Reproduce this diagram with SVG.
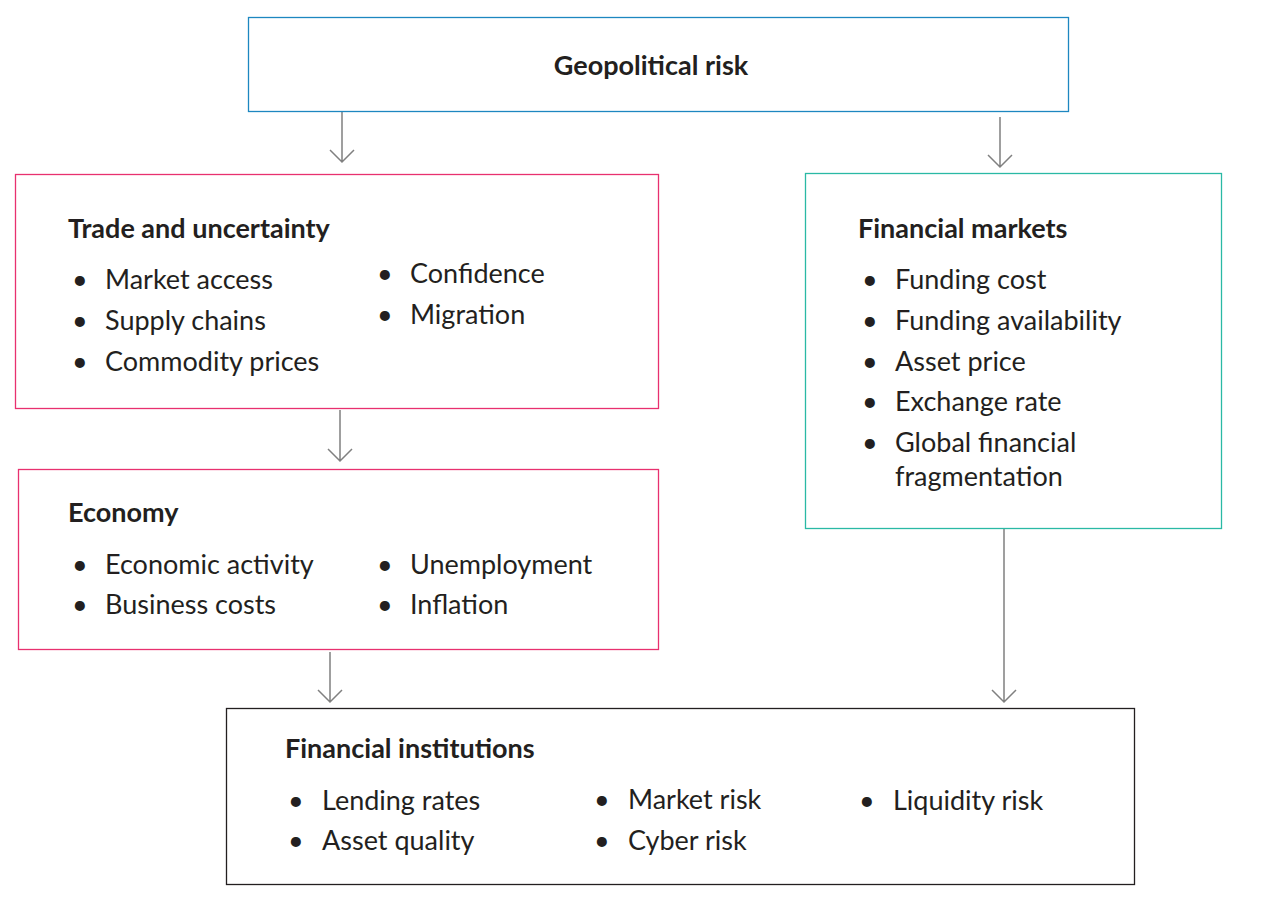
<svg xmlns="http://www.w3.org/2000/svg" width="1278" height="903" viewBox="0 0 1278 903">
<style>
text{font-family:Lato,"Liberation Sans",sans-serif;fill:#231f20;font-size:27px}
.h{font-weight:bold}
.b{fill:#fff;stroke-width:1.3}
.c line,.c path{stroke:#808080;stroke-width:1.5;fill:none}
</style>
<defs><marker id="a" markerWidth="14" markerHeight="14" refX="7" refY="12" orient="auto-start-reverse" markerUnits="userSpaceOnUse"><path d="M1,1 L7,12 L13,1" transform="rotate(0)" fill="none" stroke="#808080" stroke-width="1.5"/></marker></defs>
<rect width="1278" height="903" fill="#fff"/>
<g class="c">
<path d="M342,112 V162 M330,150 L342,162 L354,150"/>
<path d="M1000,117 V167 M988,155 L1000,167 L1012,155"/>
<path d="M340,410 V461 M328,449 L340,461 L352,449"/>
<path d="M330,652 V702 M318,690 L330,702 L342,690"/>
<path d="M1004,529 V702 M992,690 L1004,702 L1016,690"/>
</g>
<g id="geo"><rect class="b" x="248.5" y="17.5" width="820" height="94" stroke="#1d87c0"/><text class="h" x="651" y="75" text-anchor="middle">Geopolitical risk</text></g>
<g id="trade"><rect class="b" x="15.5" y="174.5" width="643" height="234" stroke="#e8306f"/>
<text class="h" x="68" y="238">Trade and uncertainty</text>
<text x="72" y="289">•</text><text x="105" y="289">Market access</text>
<text x="72" y="330">•</text><text x="105" y="330">Supply chains</text>
<text x="72" y="371">•</text><text x="105" y="371">Commodity prices</text>
<text x="377" y="283">•</text><text x="410" y="283">Confidence</text>
<text x="377" y="324">•</text><text x="410" y="324">Migration</text></g>
<g id="econ"><rect class="b" x="18.5" y="469.5" width="640" height="180" stroke="#e8306f"/>
<text class="h" x="68" y="522">Economy</text>
<text x="72" y="574">•</text><text x="105" y="574">Economic activity</text>
<text x="72" y="614">•</text><text x="105" y="614">Business costs</text>
<text x="377" y="574">•</text><text x="410" y="574">Unemployment</text>
<text x="377" y="614">•</text><text x="410" y="614">Inflation</text></g>
<g id="fin"><rect class="b" x="805.5" y="173.5" width="416" height="355" stroke="#2ab9a5"/>
<text class="h" x="858" y="238">Financial markets</text>
<text x="862" y="289">•</text><text x="895" y="289">Funding cost</text>
<text x="862" y="330">•</text><text x="895" y="330">Funding availability</text>
<text x="862" y="371">•</text><text x="895" y="371">Asset price</text>
<text x="862" y="411">•</text><text x="895" y="411">Exchange rate</text>
<text x="862" y="452">•</text><text x="895" y="452">Global financial</text>
<text x="895" y="486">fragmentation</text></g>
<g id="inst"><rect class="b" x="226.5" y="708.5" width="908" height="176" stroke="#231f20"/>
<text class="h" x="285" y="758">Financial institutions</text>
<text x="288" y="810">•</text><text x="322" y="810">Lending rates</text>
<text x="288" y="850">•</text><text x="322" y="850">Asset quality</text>
<text x="594" y="809">•</text><text x="628" y="809">Market risk</text>
<text x="594" y="850">•</text><text x="628" y="850">Cyber risk</text>
<text x="859" y="810">•</text><text x="893" y="810">Liquidity risk</text></g>
</svg>
